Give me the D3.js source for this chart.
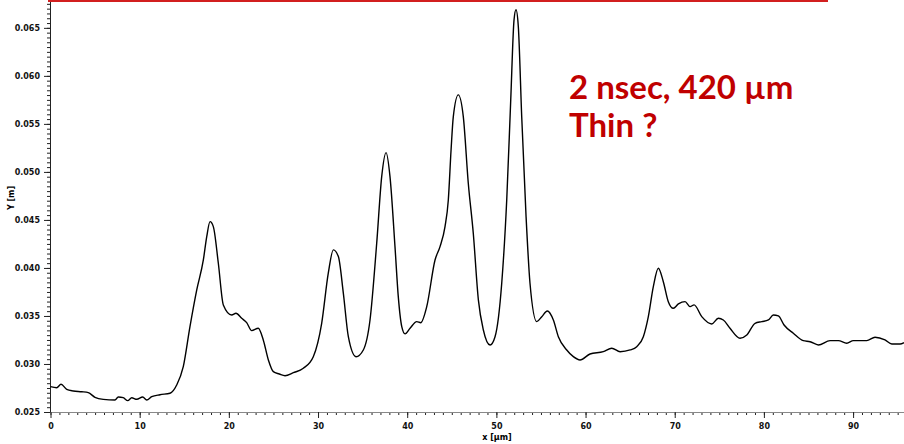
<!DOCTYPE html>
<html>
<head>
<meta charset="utf-8">
<script src="https://cdn.jsdelivr.net/npm/d3@7"></script>
<style>
  body { margin: 0; background: #fff; }
  .axis text { font-family: "DejaVu Sans", sans-serif; font-size: 8px; font-weight: bold; fill: #111; }
  .axis line { stroke: #222; }
  .axis--x path { stroke: #888; }
  .axis--y path { stroke: #222; }
  .minor path { display: none; }
</style>
</head>
<body>
<svg id="svg1" width="904" height="444"></svg>
<script>
// profile position (µm) and Y value (m)
var xs = [0, 0.70, 1.18, 1.82, 2.56, 3.50, 4.24, 4.99, 5.92, 7.23, 7.60, 8.16, 8.66, 9.11, 9.67,
  10.34, 10.79, 11.35, 12.28, 13.40, 14.15, 14.89, 15.64, 16.40, 17.14, 17.52, 17.89, 18.26, 18.82,
  19.38, 20.32, 20.80, 21.44, 22.00, 22.56, 23.30, 23.86, 24.43, 24.99, 25.66, 26.30, 27.23, 28.35,
  29.47, 30.41, 31.15, 31.72, 32.28, 32.84, 33.40, 34.26, 35.08, 35.83, 36.58, 37.14, 37.63, 38.07,
  38.63, 39.00, 39.39, 39.76, 40.32, 41.07, 41.52, 42.19, 43.12, 43.68, 44.24, 44.61, 44.92, 45.17,
  45.73, 46.29, 46.85, 47.41, 47.98, 48.54, 49.29, 49.85, 50.60, 51.16, 51.61, 51.98, 52.20, 52.46,
  52.84, 53.33, 53.77, 54.53, 55.09, 55.71, 56.39, 56.95, 57.89, 58.63, 59.38, 60.50, 61.99, 62.94,
  63.87, 65.00, 65.74, 66.48, 67.04, 67.60, 68.16, 68.72, 69.28, 69.84, 70.41, 71.16, 71.72, 72.17,
  73.03, 74.15, 74.89, 75.45, 76.20, 77.32, 78.08, 79.01, 79.76, 80.50, 81.06, 81.62, 82.26, 83.30,
  84.42, 85.18, 86.11, 87.42, 88.35, 89.29, 90.03, 91.53, 92.46, 93.58, 94.34, 95.27, 95.71];
var ys = [0.02764, 0.02753, 0.02789, 0.02736, 0.02719, 0.02711, 0.02701, 0.02653, 0.02632, 0.02625,
  0.02656, 0.02649, 0.02618, 0.02649, 0.02632, 0.02656, 0.02625, 0.02659, 0.02680, 0.02695, 0.02781,
  0.02972, 0.03389, 0.03771, 0.04083, 0.04326, 0.04482, 0.04430, 0.04049, 0.03615, 0.03510, 0.03528,
  0.03476, 0.03430, 0.03347, 0.03372, 0.03250, 0.03042, 0.02920, 0.02896, 0.02878, 0.02909, 0.02955,
  0.03076, 0.03424, 0.03945, 0.04188, 0.04118, 0.03736, 0.03284, 0.03076, 0.03146, 0.03458, 0.04257,
  0.04951, 0.05201, 0.04951, 0.04222, 0.03701, 0.03389, 0.03313, 0.03372, 0.03441, 0.03430, 0.03597,
  0.04083, 0.04222, 0.04430, 0.04708, 0.05230, 0.05576, 0.05802, 0.05576, 0.04882, 0.04361, 0.03667,
  0.03354, 0.03198, 0.03284, 0.03841, 0.04708, 0.05750, 0.06583, 0.06688, 0.06514, 0.05576, 0.04534,
  0.03841, 0.03441, 0.03493, 0.03552, 0.03458, 0.03284, 0.03146, 0.03076, 0.03042, 0.03104, 0.03128,
  0.03164, 0.03128, 0.03146, 0.03180, 0.03284, 0.03493, 0.03805, 0.03997, 0.03857, 0.03649, 0.03580,
  0.03625, 0.03649, 0.03597, 0.03615, 0.03493, 0.03417, 0.03476, 0.03458, 0.03372, 0.03268, 0.03302,
  0.03424, 0.03441, 0.03458, 0.03510, 0.03500, 0.03406, 0.03320, 0.03243, 0.03232, 0.03198, 0.03243,
  0.03243, 0.03216, 0.03243, 0.03243, 0.03278, 0.03250, 0.03208, 0.03208, 0.03222];

var xTicks = [0, 10, 20, 30, 40, 50, 60, 70, 80, 90];
var yTicks = [0.025, 0.030, 0.035, 0.040, 0.045, 0.050, 0.055, 0.060, 0.065];
var noteLines = ["2 nsec, 420 \u00b5m", "Thin ?"];

var svg1 = d3.select("#svg1"),
    margin = {top: 0, right: 0, bottom: 32, left: 50},
    width = +svg1.attr("width") - margin.left - margin.right,
    height = +svg1.attr("height") - margin.top - margin.bottom;

var x = d3.scaleLinear().domain([0, 95.71]).range([0.5, width]),
    y = d3.scaleLinear().domain([0.025, 0.0679]).range([height, 0]);

var g1 = svg1.append("g")
    .attr("transform", "translate(" + margin.left + "," + margin.top + ")");

// red bar across the top
svg1.append("rect")
    .attr("x", 48).attr("y", 0)
    .attr("width", 780).attr("height", 2)
    .attr("fill", "#d21f1f");

// minor ticks
g1.append("g")
    .attr("class", "axis minor")
    .attr("transform", "translate(0," + height + ")")
    .call(d3.axisBottom(x).tickValues(d3.range(0, 96, 1)).tickSize(3).tickFormat(""));

g1.append("g")
    .attr("class", "axis minor")
    .call(d3.axisLeft(y).tickValues(d3.range(0.025, 0.0679, 0.0005)).tickSize(3).tickFormat(""));

g1.append("g")
    .attr("class", "axis axis--x")
    .attr("transform", "translate(0," + height + ")")
    .call(d3.axisBottom(x).tickValues(xTicks).tickSize(6).tickSizeOuter(0).tickPadding(5).tickFormat(d3.format("d")));

g1.append("g")
    .attr("class", "axis axis--y")
    .call(d3.axisLeft(y).tickValues(yTicks).tickSize(6).tickSizeOuter(0).tickPadding(4).tickFormat(d3.format(".3f")));

svg1.append("text")
    .attr("x", 497).attr("y", 440)
    .attr("text-anchor", "middle")
    .style("font-family", "DejaVu Sans, sans-serif")
    .style("font-size", "8px").style("font-weight", "bold")
    .text("x [\u00b5m]");

svg1.append("text")
    .attr("transform", "translate(14,198) rotate(-90)")
    .attr("text-anchor", "middle")
    .style("font-family", "DejaVu Sans, sans-serif")
    .style("font-size", "8px").style("font-weight", "bold")
    .text("Y [m]");

var line = d3.line()
    .x(function(d, i) { return x(xs[i]); })
    .y(function(d) { return y(d); })
    .curve(d3.curveMonotoneX);

g1.append("path")
    .datum(ys)
    .attr("fill", "none")
    .attr("stroke", "#000")
    .attr("stroke-width", 1.4)
    .attr("d", line);

svg1.selectAll(".note")
    .data(noteLines)
  .enter().append("text")
    .attr("class", "note")
    .attr("x", 569)
    .attr("y", function(d, i) { return 99 + i * 38; })
    .style("font-family", "Lato, sans-serif")
    .style("font-size", "33px")
    .style("font-weight", "bold")
    .style("fill", "#c00000")
    .text(function(d) { return d; });
</script>
</body>
</html>
